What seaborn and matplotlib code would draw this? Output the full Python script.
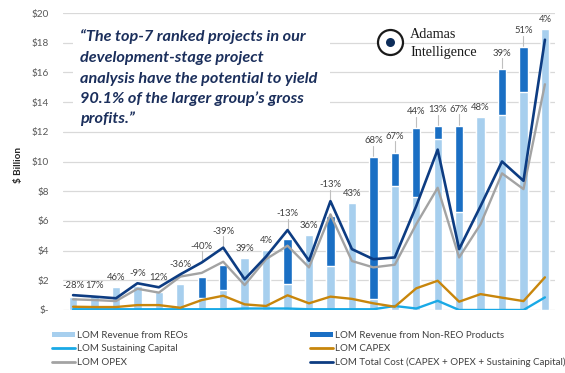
import matplotlib
matplotlib.use("Agg")
import matplotlib.pyplot as plt
import seaborn as sns
import numpy as np
import pandas as pd
from matplotlib.patches import Circle, Rectangle, Patch
from matplotlib.lines import Line2D

# ---------------- data ----------------
projects = [f"P{i+1}" for i in range(23)]
reo_revenue = [0.85, 1.0, 1.55, 1.6, 1.23, 1.75, 0.79, 1.37, 3.48, 4.06, 1.77, 5.07,
               2.95, 7.22, 0.74, 8.36, 7.58, 11.52, 6.6, 13.0, 13.15, 14.7, 18.9]
nonreo_revenue = [0, 0, 0, 0, 0, 0, 1.41, 1.66, 0, 0, 3.01, 0,
                  3.35, 0, 9.56, 2.24, 4.69, 0.85, 5.82, 0, 3.05, 3.0, 0]
sustaining = [0.05, 0.05, 0.05, 0.05, 0.05, 0.05, 0.05, 0.05, 0.1, 0.1, 0.1, 0.05,
              0.05, 0.05, 0.05, 0.27, 0.1, 0.62, 0.0, 0.0, 0.0, 0.0, 0.85]
capex = [0.22, 0.2, 0.2, 0.33, 0.33, 0.15, 0.67, 0.96, 0.38, 0.27, 0.99, 0.45,
         0.9, 0.75, 0.45, 0.22, 1.46, 1.97, 0.56, 1.07, 0.83, 0.6, 2.2]
opex = [0.72, 0.67, 0.6, 1.43, 1.17, 2.25, 2.5, 3.25, 1.68, 3.43, 4.33, 2.87,
        6.44, 3.3, 2.87, 3.05, 5.78, 8.23, 3.54, 5.78, 9.2, 8.14, 15.2]
total_cost = [1.0, 0.9, 0.79, 1.8, 1.53, 2.4, 3.2, 4.2, 2.07, 3.6, 5.38, 3.32,
              7.33, 4.1, 3.42, 3.54, 7.0, 10.8, 4.1, 7.0, 10.0, 8.7, 18.2]
pct_labels = ["-28%", "17%", "46%", "-9%", "12%", "-36%", "-40%", "-39%", "39%", "4%",
              "-13%", "36%", "-13%", "43%", "68%", "67%", "44%", "13%", "67%", "48%",
              "39%", "51%", "4%"]
yticks = [0, 2, 4, 6, 8, 10, 12, 14, 16, 18, 20]
ytick_labels = ["$-", "$2", "$4", "$6", "$8", "$10", "$12", "$14", "$16", "$18", "$20"]
legend_labels = ["LOM Revenue from REOs", "LOM Revenue from Non-REO Products",
                 "LOM Sustaining Capital", "LOM CAPEX",
                 "LOM OPEX", "LOM Total Cost (CAPEX + OPEX + Sustaining Capital)"]
quote_lines = ["\u201cThe top-7 ranked projects in our",
               "development-stage project",
               "analysis have the potential to yield",
               "90.1% of the larger group\u2019s gross",
               "profits.\u201d"]

# ---------------- colours ----------------
C_LIGHT = "#a7cfee"
C_DARK = "#1a6fc4"
C_SUST = "#19a9e6"
C_CAPEX = "#c8860c"
C_OPEX = "#a3a3a3"
C_TOTAL = "#0d3c82"
C_TEXT = "#404040"

sns.set_theme(style="white")
plt.rcParams["font.family"] = ["Lato", "DejaVu Sans"]

df = pd.DataFrame({
    "project": projects,
    "reo": reo_revenue,
    "stack": np.array(reo_revenue) + np.array(nonreo_revenue),
    "sust": sustaining, "capex": capex, "opex": opex, "total": total_cost,
})
df["pos"] = np.arange(len(df))

W, H = 565, 373
fig = plt.figure(figsize=(W / 100, H / 100), dpi=100)
ax = fig.add_axes([63 / W, 1 - 310 / H, (555 - 63) / W, (310 - 13) / H])

sns.barplot(data=df, x="project", y="stack", color=C_DARK, saturation=1,
            width=0.39, ax=ax, zorder=2)
sns.barplot(data=df, x="project", y="reo", color=C_LIGHT, saturation=1,
            width=0.39, ax=ax, zorder=2)

sns.lineplot(data=df, x="pos", y="sust", color=C_SUST, lw=1.7, ax=ax, zorder=3)
sns.lineplot(data=df, x="pos", y="capex", color=C_CAPEX, lw=1.7, ax=ax, zorder=3)
sns.lineplot(data=df, x="pos", y="opex", color=C_OPEX, lw=1.7, ax=ax, zorder=3)
sns.lineplot(data=df, x="pos", y="total", color=C_TOTAL, lw=1.9, ax=ax, zorder=4)

# percent labels
for i, lab in enumerate(pct_labels):
    top = max(df["stack"][i], df["total"][i])
    if nonreo_revenue[i] > 0:
        ax.plot([i, i], [top + 0.05, top + 0.75], color="#bfbfbf", lw=0.8, zorder=1)
        y = top + 0.8
    else:
        y = top + 0.35
    ax.text(i, y, lab, ha="center", va="bottom", fontsize=6.8, color=C_TEXT, zorder=6)

ax.set_xlim(-0.47, 22.47)
ax.set_ylim(0, 20)
ax.set_yticks(yticks)
ax.set_yticklabels(ytick_labels, fontsize=7.2, color="#595959")
ax.set_xticks([])
ax.set_xlabel("")
ax.set_ylabel("")
ax.grid(axis="y", color="#d9d9d9", lw=0.9, zorder=0)
ax.set_axisbelow(True)
for s in ax.spines.values():
    s.set_visible(False)
ax.tick_params(axis="y", length=0, pad=10)

fig.text(18 / W, 1 - 165 / H, "$ Billion", rotation=90, ha="center", va="center",
         fontsize=7.2, fontweight="bold", color="#262626")

# quote box
fig.patches.append(Rectangle((73 / W, 1 - 128 / H), (330 - 73) / W, (128 - 20) / H,
                             transform=fig.transFigure, facecolor="white",
                             edgecolor="none", zorder=5))
for k, line in enumerate(quote_lines):
    fig.text(80 / W, 1 - (41.5 + 20.5 * k) / H, line, ha="left", va="baseline",
             fontsize=11.7, fontweight="bold", fontstyle="italic", color="#1b2f5c",
             zorder=6)

# logo
cx, cy = 390.5 / 100, (H - 42.5) / 100
fig.patches.append(Circle((cx, cy), 0.125, transform=fig.dpi_scale_trans,
                          facecolor="white", edgecolor="#1a1a1a", lw=1.6, zorder=6))
fig.patches.append(Circle((cx, cy), 0.045, transform=fig.dpi_scale_trans,
                          facecolor="#0d2d5a", edgecolor="none", zorder=7))
fig.text(410 / W, 1 - 35 / H, "Adamas", ha="left", va="center", fontsize=10.2,
         family="Liberation Serif", color="#1a1a1a", zorder=7)
fig.text(410 / W, 1 - 52.5 / H, "Intelligence", ha="left", va="center", fontsize=10.2,
         family="Liberation Serif", color="#1a1a1a", zorder=7)

# legend (two columns)
h_reo = Patch(facecolor=C_LIGHT, edgecolor="none")
h_non = Patch(facecolor=C_DARK, edgecolor="none")
h_sus = Line2D([], [], color=C_SUST, lw=2)
h_cap = Line2D([], [], color=C_CAPEX, lw=2)
h_opx = Line2D([], [], color=C_OPEX, lw=2)
h_tot = Line2D([], [], color=C_TOTAL, lw=2)
common = dict(frameon=False, fontsize=7, handlelength=2.37, handleheight=0.55,
              handletextpad=0.2, labelspacing=0.45, borderaxespad=0, borderpad=0,
              labelcolor=C_TEXT, loc="upper left")
fig.legend([h_reo, h_sus, h_opx], [legend_labels[0], legend_labels[2], legend_labels[4]],
           bbox_to_anchor=(52 / W, 1 - 331 / H), **common)
fig.legend([h_non, h_cap, h_tot], [legend_labels[1], legend_labels[3], legend_labels[5]],
           bbox_to_anchor=(310 / W, 1 - 331 / H), **common)

fig.savefig("out.png", dpi=100)
